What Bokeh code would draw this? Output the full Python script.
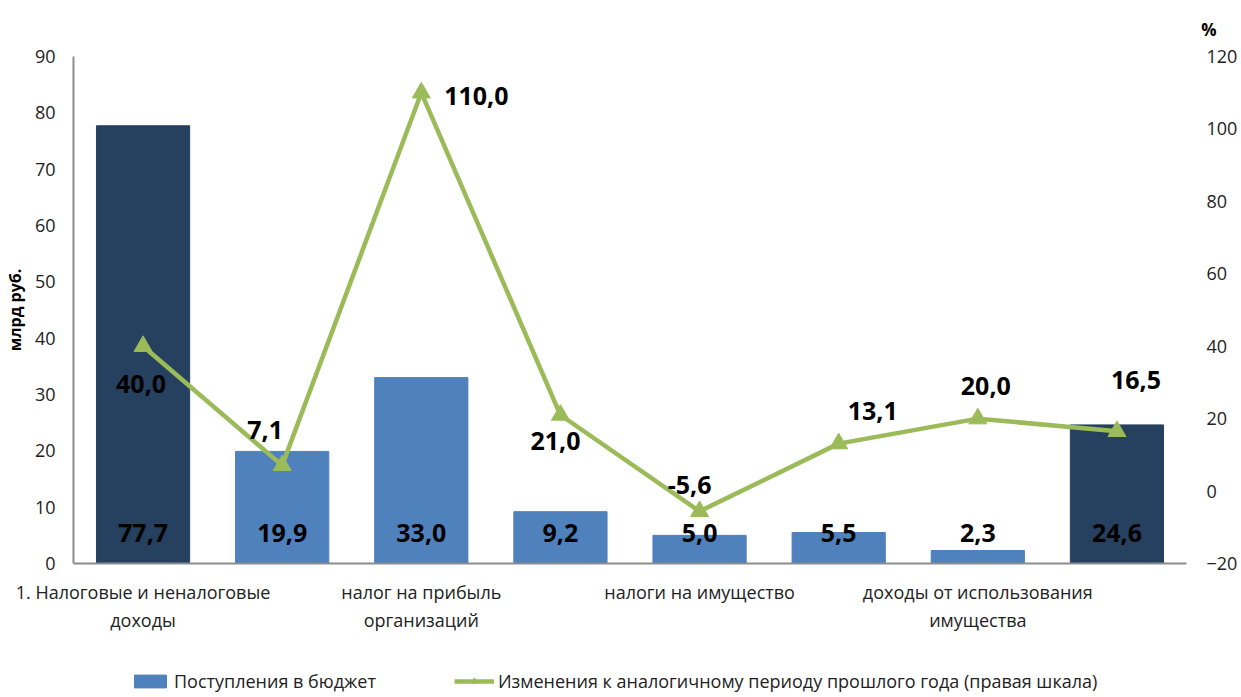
from bokeh.plotting import figure
from bokeh.layouts import column
from bokeh.models import (Range1d, LinearAxis, FixedTicker, ColumnDataSource,
                          LabelSet, Title, Legend, LegendItem)
from bokeh.core.properties import value
from bokeh.embed import file_html
from bokeh.resources import INLINE

# ---- data ----
tick_labels = [
    "1. Налоговые и неналоговые\nдоходы",
    "",
    "налог на прибыль\nорганизаций",
    "",
    "налоги на имущество",
    "",
    "доходы от использования\nимущества",
    "",
]
revenue = [77.7, 19.9, 33.0, 9.2, 5.0, 5.5, 2.3, 24.6]          # млрд руб.
change_pct = [40.0, 7.1, 110.0, 21.0, -5.6, 13.1, 20.0, 16.5]   # %
left_ticks = [0, 10, 20, 30, 40, 50, 60, 70, 80, 90]
right_ticks = [-20, 0, 20, 40, 60, 80, 100, 120]
series_names = ["Поступления в бюджет",
                "Изменения к аналогичному периоду прошлого года (правая шкала)"]

# ---- styles ----
DARK = "#26405F"
BLUE = "#4F81BD"
GREEN = "#9BBB59"
bar_colors = [DARK, BLUE, BLUE, BLUE, BLUE, BLUE, BLUE, DARK]
line_label_dx = [-2, -17, 55, -5, -10, 34, 8, 19]
line_label_dy = [-38, 35, -3, -26, 26, 33, 33, 51]
FONT = "Open Sans"
W = 1241

def fmt(v):
    return f"{v:.1f}".replace(".", ",")

xs = [i + 0.5 for i in range(len(revenue))]

src = ColumnDataSource(dict(
    x=xs, rev=revenue, pct=change_pct, color=bar_colors,
    rev_lbl=[fmt(v) for v in revenue],
    pct_lbl=[fmt(v) for v in change_pct],
    zero=[0] * len(revenue),
    dx=line_label_dx, dy=line_label_dy,
))

p = figure(width=W, height=649, x_range=Range1d(0, len(revenue)),
           y_range=Range1d(0, 90), output_backend="svg", toolbar_location=None,
           min_border_left=70, min_border_right=55, min_border_top=56,
           min_border_bottom=86)
p.outline_line_color = None
p.grid.visible = False
p.extra_y_ranges = {"pct": Range1d(-20, 120)}

p.vbar(x="x", top="rev", width=0.67, color="color", source=src)
p.line(x="x", y="pct", line_color=GREEN, line_width=4.5, y_range_name="pct", source=src)
p.scatter(x="x", y="pct", marker="triangle", size=18, color=GREEN,
          y_range_name="pct", source=src)

# axes
AX = "#8C8C8C"
xa = p.xaxis[0]
xa.ticker = FixedTicker(ticks=xs)
xa.major_label_overrides = {x: t for x, t in zip(xs, tick_labels)}
xa.axis_line_color = AX
xa.axis_line_width = 2
xa.major_tick_line_color = None
xa.minor_tick_line_color = None
xa.major_label_text_font = FONT
xa.major_label_text_font_size = "18px"
xa.major_label_text_color = "#222222"
xa.major_label_standoff = 10

ya = p.yaxis[0]
ya.ticker = FixedTicker(ticks=left_ticks)
ya.axis_line_color = AX
ya.axis_line_width = 2
ya.major_tick_line_color = None
ya.minor_tick_line_color = None
ya.major_label_text_font = FONT
ya.major_label_text_font_size = "18px"
ya.major_label_text_color = "#222222"
ya.major_label_standoff = 12
ya.axis_label = "млрд руб."
ya.axis_label_text_font = FONT
ya.axis_label_text_font_style = "bold"
ya.axis_label_text_font_size = "16px"
ya.axis_label_text_color = "#000000"
ya.axis_label_standoff = 6

ra = LinearAxis(y_range_name="pct", ticker=FixedTicker(ticks=right_ticks))
ra.axis_line_color = None
ra.major_tick_line_color = None
ra.minor_tick_line_color = None
ra.major_label_text_font = FONT
ra.major_label_text_font_size = "18px"
ra.major_label_text_color = "#222222"
ra.major_label_standoff = 14
p.add_layout(ra, "right")

# "%" unit above the right axis
p.add_layout(Title(text="%", align="right", offset=-30, standoff=31,
                   text_font=FONT, text_font_size="17px", text_font_style="bold",
                   text_color="#000000"), "above")

# value labels
p.add_layout(LabelSet(x="x", y="zero", text="rev_lbl", source=src, y_offset=31,
                      text_align="center", text_baseline="middle",
                      text_font=value(FONT), text_font_size="25px",
                      text_font_style="bold", text_color="#000000"))
p.add_layout(LabelSet(x="x", y="pct", text="pct_lbl", source=src, y_range_name="pct",
                      x_offset="dx", y_offset="dy",
                      text_align="center", text_baseline="middle",
                      text_font=value(FONT), text_font_size="25px",
                      text_font_style="bold", text_color="#000000"))

# ---- legend strip (same series, drawn out of view, only their legend shows) ----
lg = figure(width=W, height=46, x_range=Range1d(1000, 1001), y_range=Range1d(1000, 1001),
            x_axis_type=None, y_axis_type=None, output_backend="svg",
            toolbar_location=None, min_border=0)
lg.outline_line_color = None
lg.grid.visible = False
lb = lg.vbar(x="x", top="rev", width=0.67, color=BLUE, source=src)
ll = lg.line(x="x", y="pct", line_color=GREEN, line_width=4.5, source=src)
lm = lg.scatter(x="x", y="pct", marker="triangle", size=16, color=GREEN, source=src)
legend = Legend(items=[
    LegendItem(label=series_names[0], renderers=[lb]),
    LegendItem(label=series_names[1], renderers=[ll, lm]),
], orientation="horizontal", location=(57, 2), border_line_color=None,
   background_fill_alpha=0, padding=0, margin=0,
   label_text_font=FONT, label_text_font_size="18px", label_text_color="#222222",
   glyph_width=40, glyph_height=16, spacing=78, label_standoff=4)
lg.add_layout(legend, "center")

open("out.html", "w").write(file_html(column(p, lg), INLINE))
